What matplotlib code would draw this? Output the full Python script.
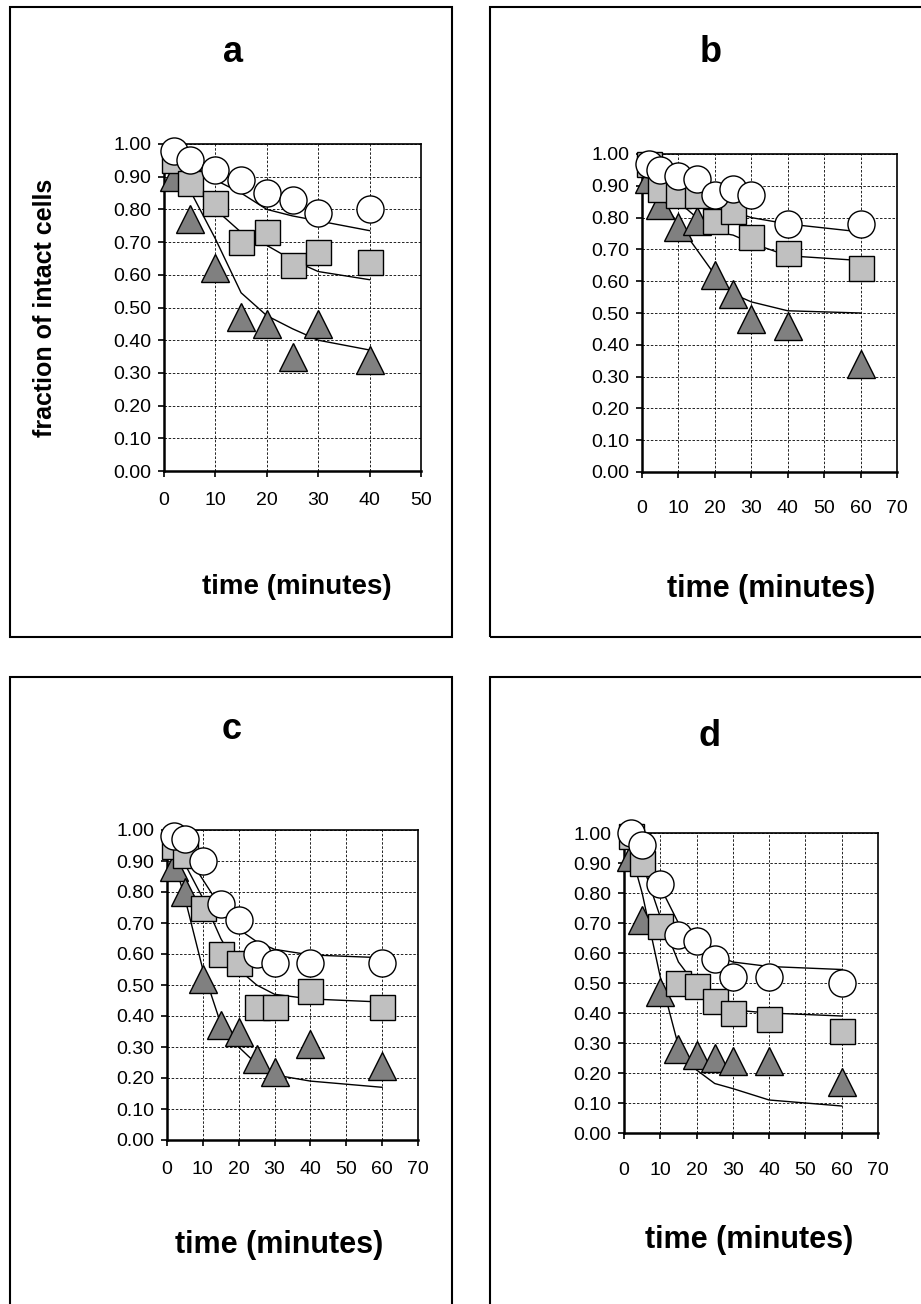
import matplotlib
matplotlib.use('Agg')
import matplotlib.pyplot as plt
from matplotlib.patches import Rectangle

plt.rcParams['font.family'] = ['Liberation Sans', 'DejaVu Sans']

W, H = 921, 1304

# panel a
a_time = [2, 5, 10, 15, 20, 25, 30, 40]
a_circle = [0.98, 0.95, 0.92, 0.89, 0.85, 0.83, 0.79, 0.80]
a_square = [0.95, 0.88, 0.82, 0.70, 0.73, 0.63, 0.67, 0.64]
a_triangle = [0.90, 0.77, 0.62, 0.47, 0.45, 0.35, 0.45, 0.34]
a_fit_circle = [0.97, 0.94, 0.89, 0.85, 0.80, 0.78, 0.765, 0.735]
a_fit_square = [0.95, 0.89, 0.80, 0.73, 0.69, 0.645, 0.61, 0.585]
a_fit_triangle = [0.92, 0.86, 0.71, 0.545, 0.475, 0.435, 0.40, 0.37]

# panel b
b_time = [2, 5, 10, 15, 20, 25, 30, 40, 60]
b_circle = [0.97, 0.95, 0.93, 0.92, 0.87, 0.89, 0.87, 0.78, 0.78]
b_square = [0.97, 0.89, 0.87, 0.87, 0.79, 0.82, 0.74, 0.69, 0.64]
b_triangle = [0.92, 0.84, 0.77, 0.79, 0.62, 0.56, 0.48, 0.46, 0.34]
b_fit_circle = [0.97, 0.94, 0.91, 0.88, 0.85, 0.82, 0.80, 0.78, 0.755]
b_fit_square = [0.96, 0.91, 0.85, 0.80, 0.755, 0.745, 0.72, 0.68, 0.665]
b_fit_triangle = [0.93, 0.86, 0.78, 0.70, 0.62, 0.56, 0.535, 0.507, 0.50]

# panel c
c_time = [2, 5, 10, 15, 20, 25, 30, 40, 60]
c_circle = [0.98, 0.97, 0.90, 0.76, 0.71, 0.60, 0.57, 0.57, 0.57]
c_square = [0.95, 0.92, 0.75, 0.60, 0.57, 0.43, 0.43, 0.48, 0.43]
c_triangle = [0.88, 0.80, 0.52, 0.37, 0.35, 0.26, 0.22, 0.31, 0.24]
c_fit_circle = [0.98, 0.93, 0.84, 0.75, 0.68, 0.64, 0.615, 0.597, 0.588]
c_fit_square = [0.95, 0.89, 0.78, 0.65, 0.55, 0.50, 0.47, 0.455, 0.445]
c_fit_triangle = [0.90, 0.78, 0.55, 0.375, 0.30, 0.245, 0.21, 0.19, 0.17]

# panel d
d_time = [2, 5, 10, 15, 20, 25, 30, 40, 60]
d_circle = [1.00, 0.96, 0.83, 0.66, 0.64, 0.58, 0.52, 0.52, 0.50]
d_square = [0.99, 0.90, 0.69, 0.50, 0.49, 0.44, 0.40, 0.38, 0.34]
d_triangle = [0.92, 0.71, 0.47, 0.28, 0.26, 0.25, 0.24, 0.24, 0.17]
d_fit_circle = [1.00, 0.93, 0.82, 0.70, 0.63, 0.595, 0.57, 0.555, 0.545]
d_fit_square = [0.99, 0.90, 0.72, 0.57, 0.49, 0.44, 0.41, 0.40, 0.39]
d_fit_triangle = [0.93, 0.80, 0.52, 0.29, 0.21, 0.165, 0.148, 0.11, 0.09]

y_ticks = [0.0, 0.1, 0.2, 0.3, 0.4, 0.5, 0.6, 0.7, 0.8, 0.9, 1.0]

fig = plt.figure(figsize=(W / 100, H / 100), dpi=100)


def px_axes(l, t, r, b):
    return fig.add_axes([l / W, 1 - b / H, (r - l) / W, (b - t) / H])


def frame(l, t, r, b):
    fig.add_artist(Rectangle((l / W, 1 - b / H), (r - l) / W, (b - t) / H,
                             transform=fig.transFigure, fill=False,
                             lw=1.5, ec='black'))


def panel(ax, t, circ, sq, tri, fc, fs, ft, xmax, xpad):
    ax.plot(t, ft, color='black', lw=1, zorder=2)
    ax.plot(t, fs, color='black', lw=1, zorder=2)
    ax.plot(t, fc, color='black', lw=1, zorder=2)
    ax.plot(t, tri, ls='none', marker='^', ms=20.5, mfc='#808080', mec='black', mew=1, zorder=3, clip_on=False)
    ax.plot(t, sq, ls='none', marker='s', ms=18, mfc='#c0c0c0', mec='black', mew=1, zorder=4, clip_on=False)
    ax.plot(t, circ, ls='none', marker='o', ms=19.5, mfc='white', mec='black', mew=1, zorder=5, clip_on=False)
    ax.set_xlim(0, xmax)
    ax.set_ylim(0, 1)
    ax.set_xticks(range(0, xmax + 1, 10))
    ax.set_yticks(y_ticks)
    ax.set_yticklabels(['%.2f' % v for v in y_ticks])
    ax.grid(True, color='black', ls=(0, (3, 2)), lw=0.6)
    ax.set_axisbelow(True)
    for s in ax.spines.values():
        s.set_linewidth(1.2)
    ax.spines['left'].set_linewidth(1.8)
    ax.spines['bottom'].set_linewidth(1.8)
    ax.tick_params(axis='both', direction='out', length=4, width=1.2, labelsize=14)
    ax.tick_params(axis='y', pad=5)
    ax.tick_params(axis='x', pad=xpad)


frame(10, 7, 452, 637)
frame(490, 7, 930, 637)
frame(10, 677, 452, 1310)
frame(490, 677, 930, 1310)

ax_a = px_axes(164, 144, 421, 471)
panel(ax_a, a_time, a_circle, a_square, a_triangle,
      a_fit_circle, a_fit_square, a_fit_triangle, 50, 11)
ax_b = px_axes(642, 154, 897, 472)
panel(ax_b, b_time, b_circle, b_square, b_triangle,
      b_fit_circle, b_fit_square, b_fit_triangle, 70, 16)
ax_c = px_axes(167, 830, 418, 1140)
panel(ax_c, c_time, c_circle, c_square, c_triangle,
      c_fit_circle, c_fit_square, c_fit_triangle, 70, 11)
ax_d = px_axes(624, 833, 878, 1133)
panel(ax_d, d_time, d_circle, d_square, d_triangle,
      d_fit_circle, d_fit_square, d_fit_triangle, 70, 17)

# panel letters
for letter, x, y in [('a', 233, 52), ('b', 711, 52), ('c', 232, 729), ('d', 710, 737)]:
    fig.text(x / W, 1 - y / H, letter, ha='center', va='center', fontsize=26, fontweight='bold')

# axis titles
for x, y, fs in [(297, 587, 20), (771, 589, 22), (279, 1245, 22), (749, 1240, 22)]:
    fig.text(x / W, 1 - y / H, 'time (minutes)', ha='center', va='center', fontsize=fs, fontweight='bold')

fig.text(45 / W, 1 - 308 / H, 'fraction of intact cells', ha='center', va='center',
         rotation=90, fontsize=18, fontweight='bold')

fig.savefig('out.png', dpi=100)
